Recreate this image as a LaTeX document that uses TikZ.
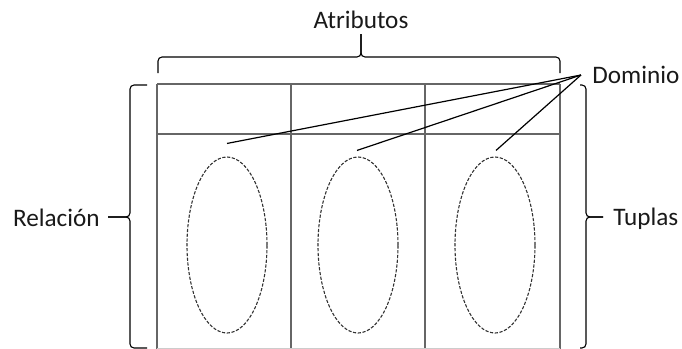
\documentclass[tikz,border=0pt]{standalone}
\usepackage{fontspec}
\setmainfont{Carlito}
\usepackage{tikz}
\usetikzlibrary{positioning,shapes.geometric}

\begin{document}
\begin{tikzpicture}[x=0.5pt, y=-0.5pt,
  lbl/.style={font=\fontsize{12.6}{14}\selectfont, inner sep=0pt, text=black!90},
  gridline/.style={draw=black!60, line width=0.9pt},
  bracket/.style={draw=black, line width=0.55pt, rounded corners=2pt},
  domshape/.style={ellipse, draw=black!80, dashed, dash pattern=on 1.6pt off 0.8pt, line width=0.55pt,
                 minimum width=40pt, minimum height=88pt, inner sep=0pt}]

  \useasboundingbox (0,0) rectangle (682,349);

  % Table of the relation
  \draw[gridline] (157,84) -- (560,84);
  \draw[gridline] (157,134) -- (560,134);
  \foreach \x in {157,291,425,560}
    \draw[gridline] (\x,84) -- (\x,349);
  \draw[draw=black!20, line width=0.6pt] (157,348.5) -- (560,348.5);

  % Domains of the attributes
  \node[domshape] (e1) at (227,245) {};
  \node[domshape] (e2) at (358,245) {};
  \node[domshape] (e3) at (495,245) {};

  % Labels
  \node[lbl, anchor=base] (atr) at (361,28) {Atributos};
  \node[lbl, anchor=base east] (rel) at (100,226.5) {Relación};
  \node[lbl, anchor=base west] (tup) at (613,225.5) {Tuplas};
  \node[lbl, anchor=base west] (dom) at (592,83.3) {Dominio};
  \coordinate (apex) at (581,75);

  % Braces
  \draw[bracket] (158,73) -- (158,57) -- (361,57) -- (361,34);
  \draw[bracket] (560,73) -- (560,57) -- (361,57) -- (361,34);
  \draw[bracket] (147,85) -- (130,85) -- (130,217) -- (108,217);
  \draw[bracket] (147,348) -- (130,348) -- (130,217) -- (108,217);
  \draw[bracket] (580,85) -- (586,85) -- (586,217) -- (603,217);
  \draw[bracket] (580,348) -- (586,348) -- (586,217) -- (603,217);

  % Connectors to the domains
  \draw[line width=0.6pt] (apex) -- ([yshift=6.5pt]e1.north);
  \draw[line width=0.6pt] (apex) -- ([xshift=-0.5pt,yshift=3pt]e2.north);
  \draw[line width=0.6pt] (apex) -- ([xshift=0.5pt,yshift=3pt]e3.north);

\end{tikzpicture}
\end{document}
